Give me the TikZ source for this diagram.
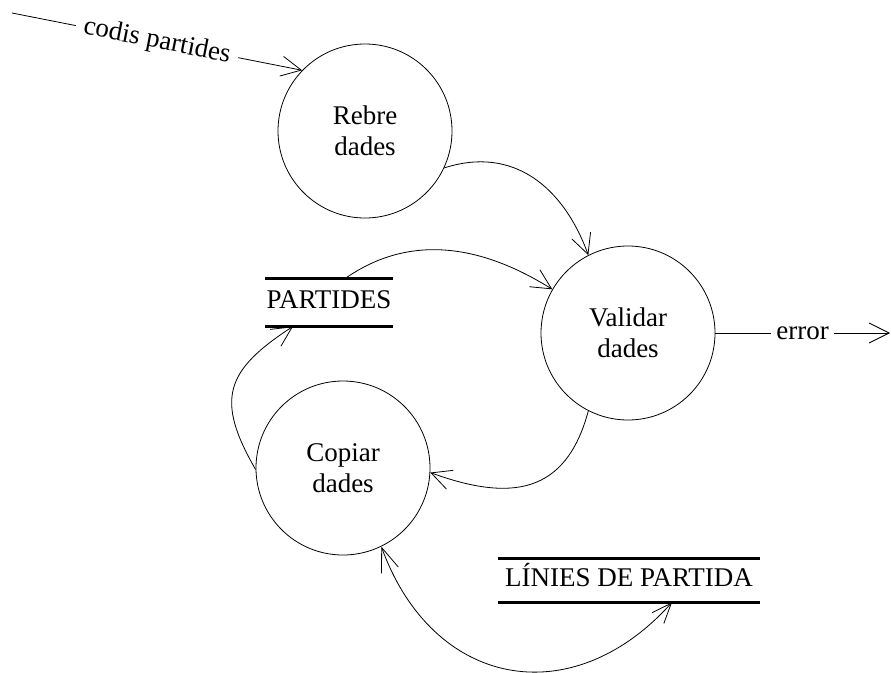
\documentclass[tikz,border=0pt]{standalone}
\usepackage{fontspec}
\setmainfont{Liberation Serif}
\usetikzlibrary{arrows.meta}
\begin{document}
\begin{tikzpicture}[x=1pt,y=1pt,
  font=\fontsize{27}{31}\selectfont,
  line width=0.8pt,
  proces/.style={draw,circle,minimum size=174pt,inner sep=0pt,align=center},
  magatzem/.style={inner sep=0pt,text height=18pt,text depth=6pt},
  vora/.style={line width=2.4pt},
  flux/.style={-{Straight Barb[length=20pt,width=20pt]}},
  dobleflux/.style={{Straight Barb[length=24pt,width=18pt]}-{Straight Barb[length=20pt,width=16pt]}}]
  % 设置边界
  \useasboundingbox (0,0) rectangle (891,-672);

  % 绘制三个过程
  \node[proces] (rebre) at (365,-131) {Rebre\\dades};
  \node[proces] (validar) at (628,-333) {Validar\\dades};
  \node[proces] (copiar) at (343,-468) {Copiar\\dades};

  % 绘制两个存储
  \node[magatzem,minimum width=128pt,minimum height=47pt] (partides) at (329,-302.5) {PARTIDES};
  \draw[vora] (partides.north west) -- (partides.north east);
  \draw[vora] (partides.south west) -- (partides.south east);
  \node[magatzem,minimum width=262pt,minimum height=43pt] (linies) at (629,-580.5) {LÍNIES DE PARTIDA};
  \draw[vora] (linies.north west) -- (linies.north east);
  \draw[vora] (linies.south west) -- (linies.south east);

  % 外部流
  \coordinate (entrada) at (12,-13);
  \coordinate (sortida) at (890,-333);
  \draw[flux] (entrada) -- node[sloped,fill=white,inner xsep=8pt] {codis partides} (rebre.136);
  \draw[flux] (validar.east) -- node[fill=white,inner xsep=5pt] {error} (sortida);

  % 内部流
  \draw[flux] (rebre.-25) to[out=18,in=110,looseness=1.1] (validar.117);
  \draw[flux] ([xshift=16pt]partides.north) to[out=35,in=148] (validar.150);
  \draw[flux] (validar.-117) to[out=-105,in=-20,looseness=1.3] (copiar.-3);
  \draw[flux] (copiar.181) to[out=120,in=-147,looseness=1.4] ([xshift=-36pt]partides.south);
  \draw[dobleflux] (copiar.-64) to[out=-70,in=-132,looseness=1.3] ([xshift=43pt]linies.south);
\end{tikzpicture}
\end{document}
